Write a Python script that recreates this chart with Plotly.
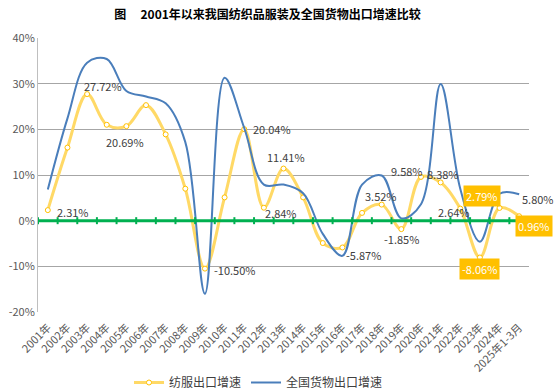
import plotly.graph_objects as go

categories = ["2001年", "2002年", "2003年", "2004年", "2005年", "2006年", "2007年", "2008年",
              "2009年", "2010年", "2011年", "2012年", "2013年", "2014年", "2015年", "2016年",
              "2017年", "2018年", "2019年", "2020年", "2021年", "2022年", "2023年", "2024年",
              "2025年1-3月"]
textile = [2.31, 16.0, 27.72, 21.0, 20.69, 25.3, 18.9, 7.0, -10.50, 5.1, 20.04, 2.84, 11.41,
           5.1, -4.9, -5.87, 1.7, 3.52, -1.85, 9.58, 8.38, 2.64, -8.06, 2.79, 0.96]
national = [6.8, 22.4, 34.6, 35.4, 28.4, 27.2, 25.7, 17.2, -16.0, 31.3, 20.3, 7.9, 7.9,
            6.0, -2.9, -7.7, 7.9, 9.9, 0.5, 3.6, 29.9, 7.0, -4.6, 5.9, 5.80]
y_ticks = [-20, -10, 0, 10, 20, 30, 40]

series_names = ["纺服出口增速", "全国货物出口增速"]
title_text = "图\u3000\u20092001年以来我国纺织品服装及全国货物出口增速比较"

# label placement styles: category index -> (xshift, yshift, boxed)
textile_label_style = {
    0: (25, -2, False), 2: (16, 8, False), 4: (-1, -16, False), 8: (30, -1, False),
    10: (28, 0, False), 11: (17, -5, False), 12: (2, 12, False), 15: (21, -8, False),
    17: (-1, 9, False), 18: (0, -10, False), 19: (-14, 6, False), 20: (2, 8, False),
    21: (-6, -3, False), 22: (0, -12, True), 23: (-18, 12, True), 24: (15, -10, True),
}
national_label_style = {24: (19, -5, False)}

xs = list(range(len(categories)))

fig = go.Figure()

fig.add_trace(go.Scatter(
    x=xs, y=textile, name=series_names[0], mode="lines+markers",
    line=dict(color="#FFD966", width=3, shape="spline", smoothing=1.0),
    marker=dict(symbol="circle", size=5, color="white", line=dict(color="#FFC000", width=1)),
))
fig.add_trace(go.Scatter(
    x=xs, y=national, name=series_names[1], mode="lines",
    line=dict(color="#4A7EBB", width=2, shape="spline", smoothing=1.0),
))

# category axis drawn at 0 (green) with tick marks between categories
bounds = [i - 0.5 for i in range(len(categories) + 1)]
fig.add_trace(go.Scatter(
    x=bounds, y=[0] * len(bounds), mode="lines+markers", showlegend=False, hoverinfo="skip",
    line=dict(color="#00B050", width=3),
    marker=dict(symbol="line-ns", size=5, line=dict(color="#00B050", width=2)),
    cliponaxis=False,
))

label_font = dict(family="Noto Sans CJK SC", size=11, color="#404040")

def add_labels(values, styles):
    for i, st in styles.items():
        dx, dy, boxed = st
        v = values[i]
        txt = f"{v:.2f}%"
        if boxed:
            fig.add_annotation(x=xs[i], y=v, text=txt, showarrow=False, xshift=dx, yshift=dy,
                               font=dict(family="Noto Sans CJK SC", size=11, color="white"),
                               bgcolor="#FFC000", borderpad=2)
        else:
            fig.add_annotation(x=xs[i], y=v, text=txt, showarrow=False, xshift=dx, yshift=dy,
                               font=label_font)

add_labels(textile, textile_label_style)
add_labels(national, national_label_style)

fig.update_layout(
    width=554, height=392,
    margin=dict(l=38, r=25, t=38, b=80, autoexpand=False),
    paper_bgcolor="white", plot_bgcolor="white",
    font=dict(family="Noto Sans CJK SC", size=11, color="#595959"),
    title=dict(text=title_text, x=267.5 / 554, xanchor="center", y=1 - 15 / 392, yanchor="middle",
               font=dict(family="Noto Sans CJK SC", size=12, color="#000000", weight="bold")),
    showlegend=True,
    legend=dict(orientation="h", xref="container", yref="container",
                x=258.5 / 554, xanchor="center", y=1 - 382.5 / 392, yanchor="middle",
                font=dict(size=12, color="#404040"), itemwidth=30, bgcolor="rgba(0,0,0,0)"),
    xaxis=dict(range=[-0.5, len(categories) - 0.5], tickmode="array", tickvals=xs,
               ticktext=categories, tickangle=-45, showgrid=False, zeroline=False,
               showline=False, ticks="", tickfont=dict(size=11, color="#595959"),
               ticklabelstandoff=6, fixedrange=True, automargin=False),
    yaxis=dict(range=[-20, 40], tickmode="array", tickvals=y_ticks,
               ticktext=[f"{t}%" for t in y_ticks], showgrid=True, gridcolor="#A6A6A6",
               gridwidth=1, zeroline=False, showline=True, linecolor="#BFBFBF", linewidth=1,
               ticks="", tickfont=dict(size=11, color="#595959"), fixedrange=True,
               automargin=False),
)

fig.write_html("out.html", config={"displayModeBar": False},
               post_script="document.body.style.margin='0';")
